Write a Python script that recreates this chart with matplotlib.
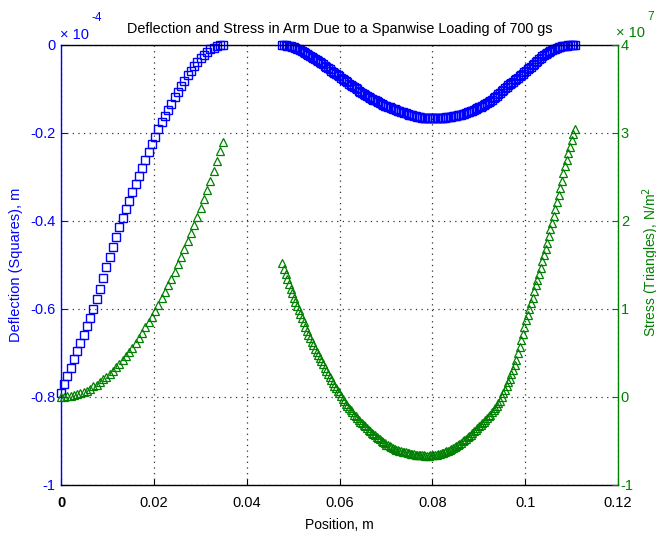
import numpy as np
import matplotlib
matplotlib.use("Agg")
import matplotlib.pyplot as plt

plt.rcParams["font.family"] = ["Liberation Sans", "DejaVu Sans"]

# positions along the arm, mm (two sampled stretches)
pos1_mm = [0.0, 0.7, 1.4, 2.1, 2.8, 3.5, 4.2, 4.9, 5.6, 6.3,
           7.0, 7.7, 8.4, 9.1, 9.8, 10.5, 11.2, 11.9, 12.6, 13.3,
           14.0, 14.7, 15.4, 16.1, 16.8, 17.5, 18.2, 18.9, 19.6, 20.3,
           21.0, 21.7, 22.4, 23.1, 23.8, 24.5, 25.2, 25.9, 26.6, 27.3,
           28.0, 28.7, 29.4, 30.1, 30.8, 31.5, 32.2, 32.9, 33.6, 34.3,
           35.0]
pos2_mm = [47.70, 48.05, 48.40, 48.75, 49.10, 49.45, 49.80, 50.15, 50.50, 50.85,
           51.20, 51.55, 51.90, 52.25, 52.60, 52.95, 53.30, 53.65, 54.00, 54.35,
           54.70, 55.05, 55.40, 55.75, 56.10, 56.45, 56.80, 57.15, 57.50, 57.85,
           58.20, 58.55, 58.90, 59.25, 59.60, 59.95, 60.30, 60.65, 61.00, 61.35,
           61.70, 62.05, 62.40, 62.75, 63.10, 63.45, 63.80, 64.15, 64.50, 64.85,
           65.20, 65.55, 65.90, 66.25, 66.60, 66.95, 67.30, 67.65, 68.00, 68.35,
           68.70, 69.05, 69.40, 69.75, 70.10, 70.45, 70.80, 71.15, 71.50, 71.85,
           72.20, 72.55, 72.90, 73.25, 73.60, 73.95, 74.30, 74.65, 75.00, 75.35,
           75.70, 76.05, 76.40, 76.75, 77.10, 77.45, 77.80, 78.15, 78.50, 78.85,
           79.20, 79.55, 79.90, 80.25, 80.60, 80.95, 81.30, 81.65, 82.00, 82.35,
           82.70, 83.05, 83.40, 83.75, 84.10, 84.45, 84.80, 85.15, 85.50, 85.85,
           86.20, 86.55, 86.90, 87.25, 87.60, 87.95, 88.30, 88.65, 89.00, 89.35,
           89.70, 90.05, 90.40, 90.75, 91.10, 91.45, 91.80, 92.15, 92.50, 92.85,
           93.20, 93.55, 93.90, 94.25, 94.60, 94.95, 95.30, 95.65, 96.00, 96.35,
           96.70, 97.05, 97.40, 97.75, 98.10, 98.45, 98.80, 99.15, 99.50, 99.85,
           100.20, 100.55, 100.90, 101.25, 101.60, 101.95, 102.30, 102.65, 103.00, 103.35,
           103.70, 104.05, 104.40, 104.75, 105.10, 105.45, 105.80, 106.15, 106.50, 106.85,
           107.20, 107.55, 107.90, 108.25, 108.60, 108.95, 109.30, 109.65, 110.00, 110.35,
           110.70]

# deflection, units of 1e-4 m
defl1 = [-0.790, -0.771, -0.752, -0.733, -0.714, -0.696, -0.677, -0.658, -0.639, -0.620,
         -0.600, -0.578, -0.555, -0.530, -0.505, -0.482, -0.460, -0.437, -0.414, -0.393,
         -0.373, -0.354, -0.335, -0.316, -0.298, -0.280, -0.262, -0.244, -0.226, -0.208,
         -0.192, -0.176, -0.161, -0.147, -0.133, -0.119, -0.106, -0.093, -0.081, -0.069,
         -0.058, -0.048, -0.039, -0.030, -0.023, -0.016, -0.010, -0.006, -0.003, -0.001,
         0.000]
defl2 = [0.000, -0.0005, -0.001, -0.0015, -0.002, -0.003, -0.004, -0.0055, -0.007, -0.0085,
         -0.010, -0.012, -0.014, -0.016, -0.018, -0.020, -0.022, -0.0245, -0.027, -0.0295,
         -0.032, -0.034, -0.036, -0.0385, -0.041, -0.044, -0.047, -0.0495, -0.052, -0.055,
         -0.058, -0.0605, -0.063, -0.066, -0.069, -0.0715, -0.074, -0.077, -0.080, -0.0825,
         -0.085, -0.088, -0.091, -0.0935, -0.096, -0.0985, -0.101, -0.1035, -0.106, -0.1085,
         -0.111, -0.113, -0.115, -0.1175, -0.120, -0.122, -0.124, -0.126, -0.128, -0.130,
         -0.132, -0.134, -0.136, -0.1375, -0.139, -0.1405, -0.142, -0.1435, -0.145, -0.1465,
         -0.148, -0.1495, -0.151, -0.152, -0.153, -0.154, -0.155, -0.1565, -0.158, -0.159,
         -0.160, -0.161, -0.162, -0.1625, -0.163, -0.164, -0.165, -0.1655, -0.166, -0.1665,
         -0.167, -0.167, -0.167, -0.167, -0.167, -0.167, -0.167, -0.1665, -0.166, -0.1655,
         -0.165, -0.1645, -0.164, -0.1635, -0.163, -0.162, -0.161, -0.1605, -0.160, -0.159,
         -0.158, -0.157, -0.156, -0.1545, -0.153, -0.152, -0.151, -0.1495, -0.148, -0.146,
         -0.144, -0.142, -0.140, -0.138, -0.136, -0.134, -0.132, -0.1295, -0.127, -0.124,
         -0.121, -0.118, -0.115, -0.112, -0.109, -0.1055, -0.102, -0.0985, -0.095, -0.092,
         -0.089, -0.086, -0.083, -0.080, -0.077, -0.074, -0.071, -0.068, -0.065, -0.062,
         -0.059, -0.0555, -0.052, -0.049, -0.046, -0.0425, -0.039, -0.0355, -0.032, -0.029,
         -0.026, -0.023, -0.020, -0.0175, -0.015, -0.013, -0.011, -0.0095, -0.008, -0.0065,
         -0.005, -0.004, -0.003, -0.0025, -0.002, -0.0015, -0.001, -0.0005, 0.000, 0.000,
         0.000]

# stress, units of 1e7 N/m^2
stress1 = [0.00, 0.00, 0.01, 0.01, 0.02, 0.03, 0.04, 0.06, 0.07, 0.09,
           0.12, 0.14, 0.17, 0.20, 0.23, 0.26, 0.30, 0.34, 0.38, 0.42,
           0.47, 0.51, 0.56, 0.61, 0.67, 0.73, 0.79, 0.85, 0.91, 0.98,
           1.05, 1.12, 1.19, 1.27, 1.34, 1.42, 1.51, 1.59, 1.68, 1.77,
           1.86, 1.95, 2.05, 2.15, 2.25, 2.35, 2.46, 2.57, 2.68, 2.79,
           2.90]
stress2 = [1.52, 1.46, 1.40, 1.34, 1.28, 1.23, 1.18, 1.13, 1.08, 1.035,
           0.99, 0.945, 0.90, 0.85, 0.80, 0.755, 0.71, 0.67, 0.63, 0.59,
           0.55, 0.515, 0.48, 0.445, 0.41, 0.37, 0.33, 0.295, 0.26, 0.225,
           0.19, 0.16, 0.13, 0.10, 0.07, 0.04, 0.01, -0.02, -0.05, -0.075,
           -0.10, -0.125, -0.15, -0.175, -0.20, -0.22, -0.24, -0.26, -0.28, -0.30,
           -0.32, -0.335, -0.35, -0.37, -0.39, -0.405, -0.42, -0.435, -0.45, -0.465,
           -0.48, -0.495, -0.51, -0.525, -0.54, -0.55, -0.56, -0.57, -0.58, -0.59,
           -0.60, -0.605, -0.61, -0.615, -0.62, -0.625, -0.63, -0.635, -0.64, -0.645,
           -0.65, -0.653, -0.655, -0.658, -0.66, -0.662, -0.663, -0.664, -0.665, -0.665,
           -0.665, -0.664, -0.663, -0.662, -0.66, -0.655, -0.65, -0.645, -0.64, -0.633,
           -0.625, -0.618, -0.61, -0.60, -0.59, -0.58, -0.57, -0.558, -0.545, -0.533,
           -0.52, -0.505, -0.49, -0.475, -0.46, -0.445, -0.43, -0.41, -0.39, -0.37,
           -0.35, -0.335, -0.32, -0.30, -0.28, -0.26, -0.24, -0.22, -0.20, -0.175,
           -0.15, -0.125, -0.10, -0.07, -0.04, 0.00, 0.04, 0.08, 0.12, 0.165,
           0.21, 0.26, 0.31, 0.365, 0.42, 0.495, 0.57, 0.645, 0.72, 0.795,
           0.87, 0.935, 1.00, 1.065, 1.13, 1.20, 1.27, 1.335, 1.40, 1.47,
           1.54, 1.61, 1.68, 1.755, 1.83, 1.905, 1.98, 2.06, 2.14, 2.22,
           2.30, 2.38, 2.46, 2.54, 2.62, 2.695, 2.77, 2.845, 2.92, 2.985,
           3.05]

x_ticks = [0, 0.02, 0.04, 0.06, 0.08, 0.1, 0.12]
x_ticklabels = ["0", "0.02", "0.04", "0.06", "0.08", "0.1", "0.12"]
left_ticks = [-1, -0.8, -0.6, -0.4, -0.2, 0]
left_ticklabels = ["-1", "-0.8", "-0.6", "-0.4", "-0.2", "0"]
right_ticks = [-1, 0, 1, 2, 3, 4]

BLUE = "#0000ff"
GREEN = "#008000"

fig = plt.figure(figsize=(6.56, 5.33), dpi=100)
ax1 = fig.add_axes([61 / 656, 48 / 533, 557 / 656, 440 / 533])
ax2 = ax1.twinx()

x1 = np.array(pos1_mm) / 1000
x2 = np.array(pos2_mm) / 1000

sq = dict(marker="s", linestyle="none", markersize=6.3, markerfacecolor="none",
          markeredgecolor=BLUE, markeredgewidth=1.0)
tr = dict(marker="^", linestyle="none", markersize=5.6, markerfacecolor="none",
          markeredgecolor=GREEN, markeredgewidth=0.9)
ax1.plot(x1, defl1, clip_on=False, **sq)
ax1.plot(x2, defl2, clip_on=False, **sq)
ax2.plot(x1, stress1, clip_on=False, **tr)
ax2.plot(x2, stress2, clip_on=False, **tr)

ax1.set_xlim(0, 0.12)
ax1.set_ylim(-1, 0)
ax2.set_ylim(-1, 4)

ax1.set_xticks(x_ticks)
ax1.set_xticklabels(x_ticklabels, fontsize=10.5)
ax1.get_xticklabels()[0].set_fontweight("bold")
ax1.set_yticks(left_ticks)
ax1.set_yticklabels(left_ticklabels, fontsize=10.5, color=BLUE)
ax2.set_yticks(right_ticks)
ax2.set_yticklabels([str(t) for t in right_ticks], fontsize=10.5, color=GREEN)

ax1.tick_params(axis="x", direction="in", length=4, pad=8, colors="black", top=False)
ax1.tick_params(axis="y", direction="in", length=4, pad=4, colors=BLUE)
ax2.tick_params(axis="y", direction="in", length=4, pad=2, colors=GREEN)

for sp in ["top", "bottom"]:
    ax1.spines[sp].set_color("black")
    ax2.spines[sp].set_visible(False)
ax1.spines["left"].set_color(BLUE)
ax1.spines["right"].set_visible(False)
ax2.spines["left"].set_visible(False)
ax2.spines["right"].set_color(GREEN)
for ax in (ax1, ax2):
    for sp in ax.spines.values():
        sp.set_linewidth(1.0)

ax1.grid(True, axis="x", linestyle=(0, (1, 3.5)), color="#303030", linewidth=0.9)
ax1.grid(True, axis="y", linestyle=(0, (1, 3.5)), color="#303070", linewidth=0.9)
ax1.set_axisbelow(True)

ax1.set_title("Deflection and Stress in Arm Due to a Spanwise Loading of 700 gs",
              fontsize=10.4, pad=9)
ax1.set_xlabel("Position, m", fontsize=10, labelpad=6)
ax1.set_ylabel("Deflection (Squares), m", fontsize=10.5, color=BLUE, labelpad=5)
fig.text(651 / 656, 1 - 262 / 533, "Stress (Triangles), N/m$^2$", rotation=90,
         fontsize=10, color=GREEN, ha="center", va="center")

# exponent labels in the old MATLAB style
fig.text(60 / 656, 1 - 35 / 533, "\u00d7 10", fontsize=10.5, color=BLUE, va="center")
fig.text(91 / 656, 1 - 18 / 533, "-4", fontsize=8.5, color=BLUE, va="center")
fig.text(616 / 656, 1 - 33 / 533, "\u00d7 10", fontsize=10.5, color=GREEN, va="center")
fig.text(647 / 656, 1 - 17 / 533, "7", fontsize=8.5, color=GREEN, va="center")

fig.savefig("out.png", dpi=100)
